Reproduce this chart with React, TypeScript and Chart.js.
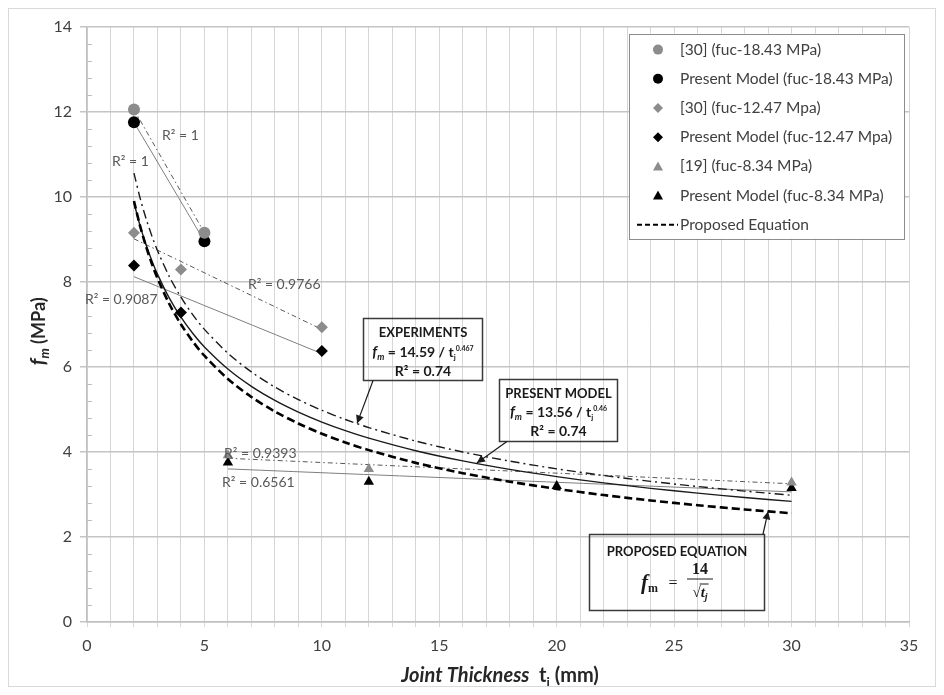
import React, { useEffect, useRef } from "react";
import { Chart, registerables } from "chart.js";

Chart.register(...registerables);

// ---- Measured strength values (f_m, MPa) against joint thickness t_j (mm) ----
const T_REF30_1843 = [2, 5];
const FM_REF30_1843 = [12.05, 9.15];
const T_PM_1843 = [2, 5];
const FM_PM_1843 = [11.75, 8.95];

const T_REF30_1247 = [2, 4, 10];
const FM_REF30_1247 = [9.15, 8.29, 6.93];
const T_PM_1247 = [2, 4, 10];
const FM_PM_1247 = [8.38, 7.28, 6.37];

const T_REF19_834 = [6, 12, 30];
const FM_REF19_834 = [3.92, 3.6, 3.28];
const T_PM_834 = [6, 12, 20, 30];
const FM_PM_834 = [3.75, 3.3, 3.2, 3.15];

// ---- Linear trend lines of each series (start / end) ----
const TR_REF30_1843_T = [2, 5];
const TR_REF30_1843_FM = [12.05, 9.15];
const TR_PM_1843_T = [2, 5];
const TR_PM_1843_FM = [11.75, 8.95];
const TR_REF30_1247_T = [2, 10];
const TR_REF30_1247_FM = [9.01, 6.88];
const TR_PM_1247_T = [2, 10];
const TR_PM_1247_FM = [8.12, 6.31];
const TR_REF19_834_T = [6, 30];
const TR_REF19_834_FM = [3.85, 3.25];
const TR_PM_834_T = [6, 30];
const TR_PM_834_FM = [3.6, 3.06];

// ---- Power-law fits f_m = A / t_j^B ----
const EXP_A = 14.59;
const EXP_B = 0.467;
const PM_A = 13.56;
const PM_B = 0.46;
const PROP_A = 14;
const PROP_B = 0.5;
const CURVE_T = [2, 2.25, 2.5, 2.75, 3, 3.5, 4, 4.5, 5, 6, 7, 8, 9, 10, 11, 12, 14, 16, 18, 20, 22, 24, 26, 28, 30];

// ---- Axis ticks ----
const X_MIN = 0;
const X_MAX = 35;
const X_LABEL_STEP = 5;
const Y_MIN = 0;
const Y_MAX = 14;
const Y_STEP = 2;
const Y_MINOR_STEP = 0.4;

// ---- R² labels: text, t, f_m (left edge, middle) ----
const R2_TEXTS = ["R² = 1", "R² = 1", "R² = 0.9766", "R² = 0.9087", "R² = 0.9393", "R² = 0.6561"];
const R2_T = [3.19, 1.06, 6.85, -0.09, 5.83, 5.75];
const R2_FM = [11.45, 10.82, 7.94, 7.59, 3.96, 3.28];

// ---- Legend entries ----
const LEGEND_LABELS = [
  "[30] (fuc-18.43 MPa)",
  "Present Model (fuc-18.43 MPa)",
  "[30] (fuc-12.47 Mpa)",
  "Present Model (fuc-12.47 Mpa)",
  "[19] (fuc-8.34 MPa)",
  "Present Model (fuc-8.34 MPa)",
  "Proposed Equation",
];

const GREY = "#8c8c8c";
const BLACK = "#000000";
const TREND = "#595959";
const FONT = "Lato, 'Open Sans', sans-serif";
const SERIF = "'Liberation Serif', 'DejaVu Serif', serif";

const pts = (xs: number[], ys: number[]) => xs.map((x, i) => ({ x, y: ys[i] }));
const curve = (a: number, b: number) => CURVE_T.map((t) => ({ x: t, y: a / Math.pow(t, b) }));

type Run = { text: string; font: string; dy?: number };

function drawRuns(ctx: CanvasRenderingContext2D, runs: Run[], x: number, y: number, align: "center" | "left" = "center") {
  let total = 0;
  runs.forEach((r) => {
    ctx.font = r.font;
    total += ctx.measureText(r.text).width;
  });
  let cx = align === "center" ? x - total / 2 : x;
  ctx.textAlign = "left";
  ctx.textBaseline = "alphabetic";
  runs.forEach((r) => {
    ctx.font = r.font;
    ctx.fillText(r.text, cx, y + (r.dy || 0));
    cx += ctx.measureText(r.text).width;
  });
  return total;
}

function marker(ctx: CanvasRenderingContext2D, shape: string, x: number, y: number, r: number, color: string) {
  ctx.fillStyle = color;
  ctx.beginPath();
  if (shape === "circle") {
    ctx.arc(x, y, r, 0, Math.PI * 2);
  } else if (shape === "rectRot") {
    ctx.moveTo(x, y - r);
    ctx.lineTo(x + r, y);
    ctx.lineTo(x, y + r);
    ctx.lineTo(x - r, y);
    ctx.closePath();
  } else {
    ctx.moveTo(x, y - r);
    ctx.lineTo(x + r, y + r * 0.8);
    ctx.lineTo(x - r, y + r * 0.8);
    ctx.closePath();
  }
  ctx.fill();
}

function arrow(ctx: CanvasRenderingContext2D, x0: number, y0: number, x1: number, y1: number) {
  ctx.strokeStyle = "#1a1a1a";
  ctx.fillStyle = "#1a1a1a";
  ctx.lineWidth = 1.2;
  ctx.setLineDash([]);
  ctx.beginPath();
  ctx.moveTo(x0, y0);
  ctx.lineTo(x1, y1);
  ctx.stroke();
  const ang = Math.atan2(y1 - y0, x1 - x0);
  const len = 8;
  const w = 4;
  ctx.beginPath();
  ctx.moveTo(x1, y1);
  ctx.lineTo(x1 - len * Math.cos(ang) + w * Math.sin(ang), y1 - len * Math.sin(ang) - w * Math.cos(ang));
  ctx.lineTo(x1 - len * Math.cos(ang) - w * Math.sin(ang), y1 - len * Math.sin(ang) + w * Math.cos(ang));
  ctx.closePath();
  ctx.fill();
}

const decorations = {
  id: "decorations",
  afterDraw(chart: any) {
    const ctx: CanvasRenderingContext2D = chart.ctx;
    const xs = chart.scales.x;
    const ys = chart.scales.y;
    const ca = chart.chartArea;
    const px = (v: number) => xs.getPixelForValue(v);
    const py = (v: number) => ys.getPixelForValue(v);
    ctx.save();

    // minor ticks on the value axis
    ctx.strokeStyle = "#bfbfbf";
    ctx.lineWidth = 1;
    for (let v = Y_MIN; v <= Y_MAX + 1e-6; v += Y_MINOR_STEP) {
      if (Math.abs(v / Y_STEP - Math.round(v / Y_STEP)) < 1e-6) continue;
      const y = Math.round(py(v)) + 0.5;
      ctx.beginPath();
      ctx.moveTo(ca.left, y);
      ctx.lineTo(ca.left + 5, y);
      ctx.stroke();
    }

    // axis titles
    ctx.fillStyle = "#262626";
    ctx.save();
    ctx.translate(ca.left - 49, (ca.top + ca.bottom) / 2 + 7);
    ctx.rotate(-Math.PI / 2);
    drawRuns(ctx, [
      { text: "f", font: `italic bold 20px ${FONT}` },
      { text: "m", font: `italic bold 13px ${FONT}`, dy: 4 },
      { text: " (MPa)", font: `bold 18px ${FONT}` },
    ], 0, 7);
    ctx.restore();
    drawRuns(ctx, [
      { text: "Joint Thickness", font: `italic bold 20px ${FONT}` },
      { text: "  t", font: `bold 20px ${FONT}` },
      { text: "j", font: `bold 13px ${FONT}`, dy: 5 },
      { text: " (mm)", font: `bold 20px ${FONT}` },
    ], (ca.left + ca.right) / 2 + 2, ca.bottom + 60);

    // R² labels of the trend lines
    ctx.fillStyle = "#595959";
    ctx.font = `14px ${FONT}`;
    ctx.textBaseline = "middle";
    ctx.textAlign = "left";
    R2_TEXTS.forEach((t, i) => ctx.fillText(t, px(R2_T[i]), py(R2_FM[i])));

    // annotation boxes
    const box = (t0: number, t1: number, f0: number, f1: number) => {
      const x0 = Math.round(px(t0)) + 0.5;
      const x1 = Math.round(px(t1)) + 0.5;
      const y0 = Math.round(py(f0)) + 0.5;
      const y1 = Math.round(py(f1)) + 0.5;
      ctx.strokeStyle = "#3a3a3a";
      ctx.lineWidth = 1.5;
      ctx.setLineDash([]);
      ctx.strokeRect(x0, y0, x1 - x0, y1 - y0);
      return { x0, x1, y0, y1, cx: (x0 + x1) / 2 };
    };
    ctx.fillStyle = "#1a1a1a";
    const bold = (s: number) => `bold ${s}px ${FONT}`;

    const e = box(11.75, 16.82, 7.14, 5.69);
    drawRuns(ctx, [{ text: "EXPERIMENTS", font: bold(13) }], e.cx, e.y0 + 18);
    drawRuns(ctx, [
      { text: "f", font: `italic bold 15px ${FONT}` },
      { text: "m", font: `italic bold 9px ${FONT}`, dy: 3 },
      { text: " = 14.59 / t", font: bold(14) },
      { text: "j", font: bold(8), dy: 3 },
      { text: "0.467", font: bold(7), dy: -6 },
    ], e.cx, e.y0 + 38);
    drawRuns(ctx, [{ text: "R² = 0.74", font: bold(14) }], e.cx, e.y0 + 57);
    arrow(ctx, px(12.18), e.y1, px(11.5), py(4.67));

    const p = box(17.54, 22.56, 5.71, 4.26);
    drawRuns(ctx, [{ text: "PRESENT MODEL", font: bold(13) }], p.cx, p.y0 + 18);
    drawRuns(ctx, [
      { text: "f", font: `italic bold 15px ${FONT}` },
      { text: "m", font: `italic bold 9px ${FONT}`, dy: 3 },
      { text: " = 13.56 / t", font: bold(14) },
      { text: "j", font: bold(8), dy: 3 },
      { text: "0.46", font: bold(7), dy: -6 },
    ], p.cx, p.y0 + 37);
    drawRuns(ctx, [{ text: "R² = 0.74", font: bold(14) }], p.cx, p.y0 + 56);
    arrow(ctx, px(17.88), p.y1, px(16.6), py(3.74));

    const q = box(21.37, 28.82, 2.08, 0.28);
    drawRuns(ctx, [{ text: "PROPOSED EQUATION", font: bold(13) }], q.cx, q.y0 + 21);
    // f_m = 14 / sqrt(t_j)
    ctx.fillStyle = "#1a1a1a";
    const fx = q.cx - 36;
    const fy = q.y0 + 54;
    drawRuns(ctx, [
      { text: "f", font: `italic bold 21px ${SERIF}` },
      { text: "m", font: `bold 12px ${SERIF}`, dy: 3 },
    ], fx, fy, "left");
    drawRuns(ctx, [{ text: "=", font: `16px ${SERIF}` }], q.cx - 4, fy - 1);
    const fracX = q.cx + 23;
    drawRuns(ctx, [{ text: "14", font: `bold 16px ${SERIF}` }], fracX, q.y0 + 39);
    ctx.strokeStyle = "#1a1a1a";
    ctx.lineWidth = 1;
    ctx.beginPath();
    ctx.moveTo(fracX - 13, q.y0 + 44.5);
    ctx.lineTo(fracX + 13, q.y0 + 44.5);
    ctx.stroke();
    const w = drawRuns(ctx, [
      { text: "√", font: `15px ${SERIF}` },
      { text: "t", font: `italic bold 15px ${SERIF}` },
      { text: "j", font: `italic bold 10px ${SERIF}`, dy: 3 },
    ], fracX, q.y0 + 62);
    ctx.font = `15px ${SERIF}`;
    const sq = ctx.measureText("√").width;
    ctx.beginPath();
    ctx.moveTo(fracX - w / 2 + sq - 1, q.y0 + 49.5);
    ctx.lineTo(fracX + w / 2 + 1, q.y0 + 49.5);
    ctx.stroke();
    arrow(ctx, px(28.78), q.y0, px(29), py(2.6));

    // legend
    const lx = ca.left + 542;
    const ly = ca.top + 7;
    ctx.fillStyle = "#ffffff";
    ctx.fillRect(lx, ly, 275, 205);
    ctx.strokeStyle = "#8c8c8c";
    ctx.lineWidth = 1;
    ctx.setLineDash([]);
    ctx.strokeRect(Math.round(lx) + 0.5, Math.round(ly) + 0.5, 275, 205);
    const shapes = ["circle", "circle", "rectRot", "rectRot", "triangle", "triangle"];
    const colors = [GREY, BLACK, GREY, BLACK, GREY, BLACK];
    LEGEND_LABELS.forEach((label, i) => {
      const y = ly + 16 + i * 29.2;
      if (i < 6) {
        marker(ctx, shapes[i], lx + 29, y, 5, colors[i]);
      } else {
        ctx.strokeStyle = "#000";
        ctx.lineWidth = 2;
        ctx.setLineDash([5, 3]);
        ctx.beginPath();
        ctx.moveTo(lx + 8, y);
        ctx.lineTo(lx + 49, y);
        ctx.stroke();
        ctx.setLineDash([]);
      }
      ctx.fillStyle = "#404040";
      ctx.font = `15.5px ${FONT}`;
      ctx.textBaseline = "middle";
      ctx.textAlign = "left";
      ctx.fillText(label, lx + 51, y);
    });

    ctx.restore();
  },
};

export default function App() {
  const ref = useRef<HTMLCanvasElement>(null);

  useEffect(() => {
    const lineDs = (data: any[], color: string, width: number, dash: number[]) => ({
      type: "scatter" as const,
      data,
      showLine: true,
      borderColor: color,
      borderWidth: width,
      borderDash: dash,
      pointRadius: 0,
      pointHoverRadius: 0,
      fill: false,
      tension: 0.3,
      order: 2,
    });
    const pointDs = (data: any[], color: string, style: string) => ({
      type: "scatter" as const,
      data,
      showLine: false,
      pointStyle: style,
      pointRadius: 6,
      backgroundColor: color,
      borderColor: color,
      borderWidth: 0,
      order: 1,
    });

    const chart = new Chart(ref.current as HTMLCanvasElement, {
      type: "scatter",
      data: {
        datasets: [
          lineDs(curve(PROP_A, PROP_B), "#000", 2.6, [8, 4]),
          lineDs(curve(PM_A, PM_B), "#1a1a1a", 1.4, []),
          lineDs(curve(EXP_A, EXP_B), "#1a1a1a", 1.4, [9, 4, 2, 4]),
          lineDs(pts(TR_REF30_1843_T, TR_REF30_1843_FM), TREND, 1, [5, 3, 1.5, 3]),
          lineDs(pts(TR_PM_1843_T, TR_PM_1843_FM), "#7f7f7f", 1, []),
          lineDs(pts(TR_REF30_1247_T, TR_REF30_1247_FM), TREND, 1, [5, 3, 1.5, 3]),
          lineDs(pts(TR_PM_1247_T, TR_PM_1247_FM), "#7f7f7f", 1, []),
          lineDs(pts(TR_REF19_834_T, TR_REF19_834_FM), TREND, 1, [5, 3, 1.5, 3]),
          lineDs(pts(TR_PM_834_T, TR_PM_834_FM), "#7f7f7f", 1, []),
          pointDs(pts(T_REF30_1843, FM_REF30_1843), GREY, "circle"),
          pointDs(pts(T_PM_1843, FM_PM_1843), BLACK, "circle"),
          pointDs(pts(T_REF30_1247, FM_REF30_1247), GREY, "rectRot"),
          pointDs(pts(T_PM_1247, FM_PM_1247), BLACK, "rectRot"),
          pointDs(pts(T_REF19_834, FM_REF19_834), GREY, "triangle"),
          pointDs(pts(T_PM_834, FM_PM_834), BLACK, "triangle"),
        ] as any,
      },
      options: {
        animation: false,
        responsive: false,
        devicePixelRatio: 1,
        layout: { padding: { top: 15, right: 26, left: 0, bottom: 0 } },
        plugins: { legend: { display: false }, tooltip: { enabled: false } },
        scales: {
          x: {
            type: "linear",
            min: X_MIN,
            max: X_MAX,
            afterFit: (s: any) => {
              s.height = 64;
            },
            ticks: {
              stepSize: 1,
              autoSkip: false,
              maxRotation: 0,
              padding: 9,
              color: "#404040",
              font: { family: FONT, size: 16 },
              callback: (v: any) => (Number(v) % X_LABEL_STEP === 0 ? String(v) : ""),
            },
            grid: { color: "#d6d6d6", lineWidth: 1, tickLength: 5 },
            border: { color: "#bfbfbf", width: 1.5 },
          },
          y: {
            type: "linear",
            min: Y_MIN,
            max: Y_MAX,
            afterFit: (s: any) => {
              s.width = 78;
            },
            ticks: {
              stepSize: Y_STEP,
              padding: 8,
              color: "#404040",
              font: { family: FONT, size: 16 },
            },
            grid: { color: "#c4c4c4", lineWidth: 1.5, tickLength: 7 },
            border: { color: "#bfbfbf", width: 1.5 },
          },
        },
      },
      plugins: [decorations],
    } as any);
    return () => chart.destroy();
  }, []);

  return (
    <div style={{ width: 926, height: 677, border: "1px solid #d9d9d9", background: "#fff" }}>
      <canvas ref={ref} width={926} height={677} style={{ display: "block" }} />
    </div>
  );
}
